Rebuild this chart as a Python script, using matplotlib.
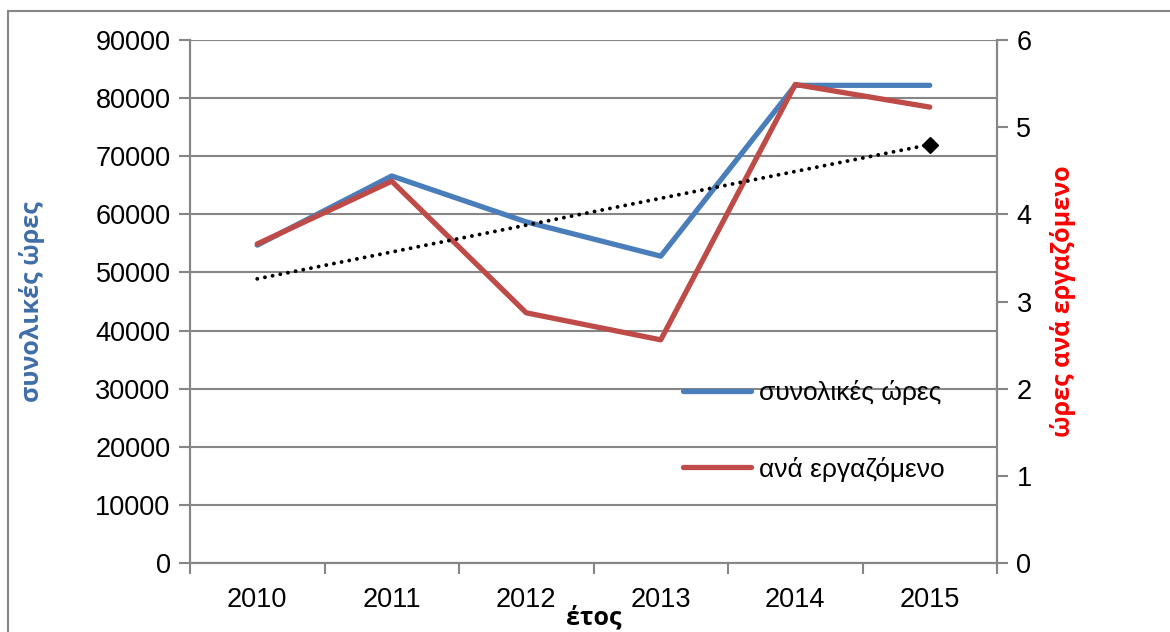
import matplotlib
matplotlib.use("Agg")
import matplotlib.pyplot as plt
from matplotlib.patches import Rectangle

years = ["2010", "2011", "2012", "2013", "2014", "2015"]
total_hours = [54700, 66600, 58700, 52800, 82200, 82200]
per_worker = [3.66, 4.38, 2.87, 2.56, 5.49, 5.23]
# linear trend of per_worker, read at first and last year
trend_x = [0, 5]
trend_y = [3.26, 4.80]

blue = "#4A7EBB"
red = "#BE4B48"
grid_gray = "#868686"

plt.rcParams["font.family"] = ["Liberation Sans", "DejaVu Sans"]

fig = plt.figure(figsize=(11.7, 6.32), dpi=100)
ax1 = fig.add_axes([190 / 1170, 1 - 563 / 632, (997 - 190) / 1170, (563 - 40) / 632])
ax2 = ax1.twinx()

x = list(range(len(years)))
l1, = ax1.plot(x, total_hours, color=blue, lw=3.8, solid_capstyle="round", label="συνολικές ώρες", zorder=3)
l2, = ax2.plot(x, per_worker, color=red, lw=3.8, solid_capstyle="round", label="ανά εργαζόμενο", zorder=3)
ax2.plot(trend_x, trend_y, color="black", lw=2.8, ls=(0, (0.01, 2.0)), dash_capstyle="round", zorder=4)
ax2.plot(trend_x[-1], trend_y[-1], marker="D", color="black", ms=8, zorder=5)

ax1.set_xlim(-0.5, 5.5)
ax1.set_ylim(0, 90000)
ax2.set_ylim(0, 6)
ax1.set_yticks(range(0, 90001, 10000))
ax2.set_yticks(range(0, 7))
ax1.set_xticks(x)
ax1.set_xticklabels(years)
ax1.set_xticks([i - 0.5 for i in range(7)], minor=True)
ax1.tick_params(axis="x", which="major", length=0, pad=17, labelsize=19.5)
ax1.tick_params(axis="x", which="minor", length=8, color=grid_gray, width=1.5)
ax1.tick_params(axis="y", length=8, color=grid_gray, width=1.5, labelsize=19.5, pad=6)
ax2.tick_params(axis="y", length=8, color=grid_gray, width=1.5, labelsize=19.5, pad=6)

ax1.grid(axis="y", color=grid_gray, lw=1.5)
ax1.set_axisbelow(True)
for ax in (ax1, ax2):
    ax.spines["top"].set_visible(False)
    for side in ("left", "right", "bottom"):
        ax.spines[side].set_color(grid_gray)
        ax.spines[side].set_linewidth(1.5)

ax1.set_ylabel("συνολικές ώρες", color="#3F6EA8", fontsize=18, fontweight="bold",
               family=["Open Sans", "DejaVu Sans"])
ax1.yaxis.set_label_coords(-0.18, 0.5)
ax2.set_ylabel("ώρες ανά εργαζόμενο", color="#FF0000", fontsize=18, fontweight="bold",
               family=["Open Sans", "DejaVu Sans"], rotation=90)
ax2.yaxis.set_label_coords(1.066, 0.5)
ax1.set_xlabel("έτος", fontsize=18, fontweight="bold", family=["Open Sans", "DejaVu Sans"])
ax1.xaxis.set_label_coords(0.5, -0.082)

leg = ax1.legend(handles=[l1, l2], loc="upper left", bbox_to_anchor=(0.581, 0.395), frameon=False,
                 fontsize=19, handlelength=2.6, handletextpad=0.3, labelspacing=1.95)

fig.patches.append(Rectangle((8 / 1170, -0.1), 1.2, 1 - 11 / 632 + 0.1, transform=fig.transFigure,
                             fill=False, edgecolor=grid_gray, lw=1.5))

fig.savefig("out.png", dpi=100)
